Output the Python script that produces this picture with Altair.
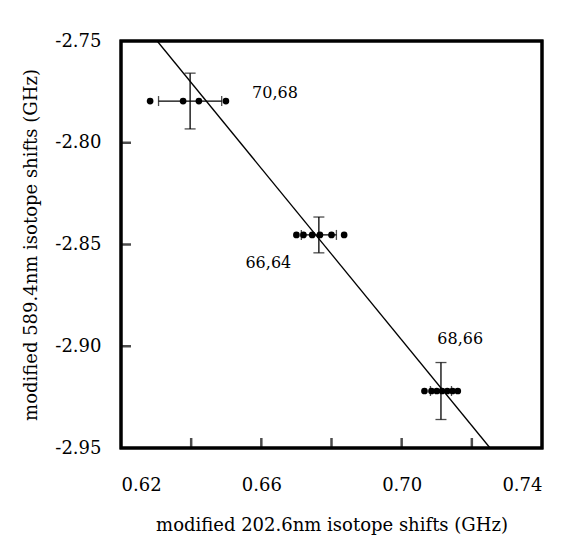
import altair as alt
import pandas as pd

# ---- data ----
groups = ["70,68", "66,64", "68,66"]
x_centers = [0.6397, 0.6764, 0.7112]
y_centers = [-2.7795, -2.8453, -2.9220]
x_err = [0.009, 0.005, 0.003]
y_err = [0.0137, 0.0088, 0.0140]

dots_x = [0.6283, 0.6377, 0.6422, 0.6499,
          0.6700, 0.6720, 0.6745, 0.6767, 0.6800, 0.6836,
          0.7065, 0.7085, 0.7100, 0.7115, 0.7130, 0.7145, 0.7160]
dots_y = [-2.7795] * 4 + [-2.8453] * 6 + [-2.9220] * 7

label_x = [0.6639, 0.6620, 0.7167]
label_y = [-2.7756, -2.8590, -2.8965]

fit_x = [0.6303, 0.7252]
fit_y = [-2.75, -2.95]

x_ticks = [0.64, 0.66, 0.68, 0.70, 0.72]
y_ticks = [-2.80, -2.85, -2.90]
x_labels = [0.62, 0.66, 0.70, 0.74]
y_labels = [-2.75, -2.80, -2.85, -2.90, -2.95]

FONT = "DejaVu Serif"
FS = 18
W, H = 421, 407

err = pd.DataFrame({
    "g": groups, "x": x_centers, "y": y_centers,
    "xlo": [c - e for c, e in zip(x_centers, x_err)],
    "xhi": [c + e for c, e in zip(x_centers, x_err)],
    "ylo": [c - e for c, e in zip(y_centers, y_err)],
    "yhi": [c + e for c, e in zip(y_centers, y_err)],
})
dots = pd.DataFrame({"x": dots_x, "y": dots_y})
labels = pd.DataFrame({"g": groups, "x": label_x, "y": label_y})
fit = pd.DataFrame({"x": fit_x, "y": fit_y})
xt = pd.DataFrame({"tx": x_ticks})
yt = pd.DataFrame({"ty": y_ticks})

xs = alt.Scale(domain=[0.62, 0.74], nice=False, zero=False)
ys = alt.Scale(domain=[-2.95, -2.75], nice=False, zero=False)

X = alt.X("x:Q", scale=xs, axis=alt.Axis(
    values=x_labels, ticks=False, domain=False, grid=False,
    labelExpr="format(datum.value, '.2f')", labelPadding=28,
    labelFont=FONT, labelFontSize=FS, labelColor="black",
    title="modified 202.6nm isotope shifts (GHz)", titleFont=FONT,
    titleFontSize=FS, titleFontWeight="normal", titleColor="black",
    titlePadding=22))
Y = alt.Y("y:Q", scale=ys, axis=alt.Axis(
    values=y_labels, ticks=False, domain=False, grid=False,
    labelExpr="(datum.value < 0 ? '-' : '') + format(abs(datum.value), '.2f')",
    labelPadding=20, labelFont=FONT, labelFontSize=FS, labelColor="black",
    title="modified 589.4nm isotope shifts (GHz)", titleFont=FONT,
    titleFontSize=FS, titleFontWeight="normal", titleColor="black",
    titlePadding=14))

line = alt.Chart(fit).mark_line(color="black", strokeWidth=1.3).encode(x=X, y=Y)

# frame drawn as a mark (instead of the view stroke)
frame = alt.Chart(fit).mark_rect(filled=False, stroke="black", strokeWidth=3).encode(
    x=alt.value(0), x2=alt.value(W), y=alt.value(0), y2=alt.value(H))

# inward tick marks
xtick = alt.Chart(xt).mark_tick(color="black", orient="vertical", size=10, thickness=2.5).encode(
    x=alt.X("tx:Q", scale=xs), y=alt.value(H - 5))
ytick = alt.Chart(yt).mark_tick(color="black", orient="horizontal", size=10, thickness=2.5).encode(
    y=alt.Y("ty:Q", scale=ys), x=alt.value(5))

vbar = alt.Chart(err).mark_rule(color="black", strokeWidth=1.3).encode(
    x=alt.X("x:Q", scale=xs), y=alt.Y("ylo:Q", scale=ys), y2="yhi:Q")
vcap_lo = alt.Chart(err).mark_tick(color="black", orient="horizontal", size=11, thickness=1.3).encode(
    x=alt.X("x:Q", scale=xs), y=alt.Y("ylo:Q", scale=ys))
vcap_hi = alt.Chart(err).mark_tick(color="black", orient="horizontal", size=11, thickness=1.3).encode(
    x=alt.X("x:Q", scale=xs), y=alt.Y("yhi:Q", scale=ys))
hbar = alt.Chart(err).mark_rule(color="black", strokeWidth=1.3).encode(
    x=alt.X("xlo:Q", scale=xs), x2="xhi:Q", y=alt.Y("y:Q", scale=ys))
hcap_lo = alt.Chart(err).mark_tick(color="black", orient="vertical", size=10, thickness=1.3).encode(
    x=alt.X("xlo:Q", scale=xs), y=alt.Y("y:Q", scale=ys))
hcap_hi = alt.Chart(err).mark_tick(color="black", orient="vertical", size=10, thickness=1.3).encode(
    x=alt.X("xhi:Q", scale=xs), y=alt.Y("y:Q", scale=ys))

pts = alt.Chart(dots).mark_circle(color="black", opacity=1, size=45).encode(
    x=alt.X("x:Q", scale=xs), y=alt.Y("y:Q", scale=ys))

txt = alt.Chart(labels).mark_text(font=FONT, fontSize=16, color="black").encode(
    x=alt.X("x:Q", scale=xs), y=alt.Y("y:Q", scale=ys), text="g:N")

chart = alt.layer(
    line, frame, xtick, ytick, vbar, vcap_lo, vcap_hi, hbar, hcap_lo, hcap_hi, pts, txt
).properties(
    width=W, height=H,
    autosize=alt.AutoSizeParams(type="none"),
    padding={"left": 113, "top": 33, "right": 16, "bottom": 90},
    background="white",
).configure_view(strokeWidth=0)

chart.save("out.html", embed_options={"renderer": "svg", "actions": False})
